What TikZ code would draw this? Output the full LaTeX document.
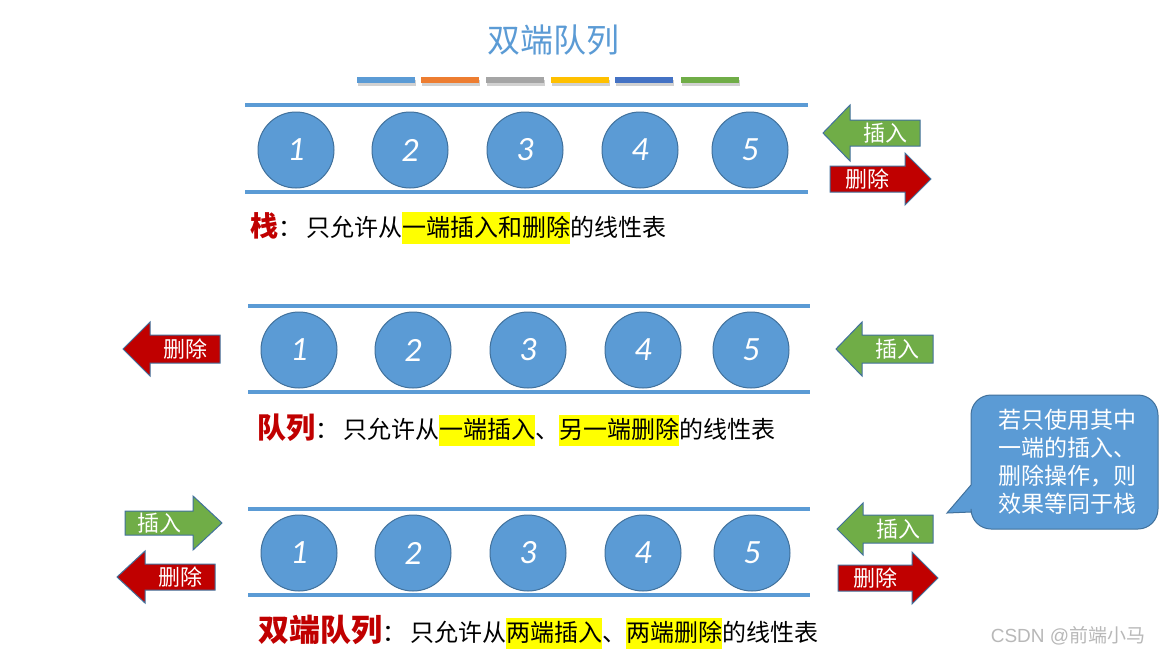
\documentclass[tikz,border=0pt]{standalone}
\usepackage{fontspec}
\setmainfont{Noto Sans CJK SC}
\newfontfamily\numfont{Carlito}
\newfontfamily\wmfont{Liberation Sans}
\definecolor{cblue}{HTML}{5B9BD5}
\definecolor{cborder}{HTML}{41719C}
\definecolor{agreen}{HTML}{70AD47}
\definecolor{ared}{HTML}{C00000}
\definecolor{bar1}{HTML}{5B9BD5}
\definecolor{bar2}{HTML}{ED7D31}
\definecolor{bar3}{HTML}{A5A5A5}
\definecolor{bar4}{HTML}{FFC000}
\definecolor{bar5}{HTML}{4472C4}
\definecolor{bar6}{HTML}{70AD47}
\definecolor{hlyellow}{HTML}{FFFF00}
\newcommand\hl[1]{{\setlength\fboxsep{0pt}\colorbox{hlyellow}{\rule[-0.3em]{0pt}{1.3em}#1}}}
\newcommand\colonsp{：\hspace{4pt}}
\newcommand\RArrow[9]{%
  \filldraw[fill=#8, draw=cborder, line width=1pt] (#2,#5-#6) -- (#3,#5-#6) -- (#3,#5-#7) -- (#4,#5) -- (#3,#5+#7) -- (#3,#5+#6) -- (#2,#5+#6) -- cycle;
  \node[albl] (#1) at ({(#2+#3)/2},#5) {#9};}
\newcommand\LArrow[9]{%
  \filldraw[fill=#8, draw=cborder, line width=1pt] (#2,#5) -- (#3,#5-#7) -- (#3,#5-#6) -- (#4,#5-#6) -- (#4,#5+#6) -- (#3,#5+#6) -- (#3,#5+#7) -- cycle;
  \node[albl] (#1) at ({(#3+#4)/2},#5) {#9};}
\begin{document}
\begin{tikzpicture}[x=1pt,y=-1pt,
  ball/.style={circle, minimum size=76pt, inner sep=0pt, fill=cblue, draw=cborder, line width=1pt,
     text=white, font=\numfont\itshape\fontsize{34}{34}\selectfont},
  rail/.style={draw=cblue, line width=4pt},
  albl/.style={text=white, inner sep=0pt, font=\fontsize{22}{22}\selectfont},
  txt/.style={anchor=west, inner sep=0pt, font=\fontsize{24}{28}\selectfont},
  cbar/.style={line width=6pt}
]
\useasboundingbox (0,0) rectangle (1160,657);
\fill[white] (0,0) rectangle (1160,657);

% title
\node[text=cblue, font=\fontsize{33}{33}\selectfont] (title) at (553,40) {双端队列};
% colour bars
\foreach \a/\b/\c in {357/415/bar1,421/479/bar2,486/544/bar3,551/609/bar4,615/673/bar5,681/739/bar6}{
  \draw[cbar, black!18] (\a+1,82.5) -- (\b+1,82.5);
  \draw[cbar, \c] (\a,80) -- (\b,80);
}

% row 1
\draw[rail] (245,105) -- (808,105);
\draw[rail] (245,192) -- (808,192);
\foreach \x [count=\i] in {296,410,525,640,750} \node[ball] (a\i) at (\x,150) {\i};
\LArrow{a-ins}{823}{850}{920}{133}{13}{28}{agreen}{插入}
\RArrow{a-del}{830}{905}{931}{179}{13}{26}{ared}{删除}
\node[txt] (t1) at (250,228) {\textcolor{ared}{\bfseries\fontsize{28}{28}\selectfont 栈}\colonsp 只允许从\hl{一端插入和删除}的线性表};

% row 2
\draw[rail] (248,306) -- (810,306);
\draw[rail] (248,392) -- (810,392);
\foreach \x [count=\i] in {299,413,528,643,751} \node[ball] (b\i) at (\x,350) {\i};
\LArrow{b-del}{123}{150}{220}{349}{14}{27}{ared}{删除}
\LArrow{b-ins}{836}{862}{933}{349}{14}{27}{agreen}{插入}
\node[txt] (t2) at (257,430) {\textcolor{ared}{\bfseries\fontsize{29}{29}\selectfont 队列}\colonsp 只允许从\hl{一端插入}、\hl{另一端删除}的线性表};

% row 3
\draw[rail] (248,509) -- (810,509);
\draw[rail] (248,595) -- (810,595);
\foreach \x [count=\i] in {299,413,528,643,752} \node[ball] (c\i) at (\x,553) {\i};
\RArrow{c-ins-l}{125}{193}{222}{523}{12}{27}{agreen}{插入}
\LArrow{c-del-l}{117}{145}{215}{577}{13}{26}{ared}{删除}
\LArrow{c-ins-r}{837}{863}{933}{529}{14}{26}{agreen}{插入}
\RArrow{c-del-r}{838}{912}{938}{578}{13}{26}{ared}{删除}
\node[txt] (t3) at (258,632) {\textcolor{ared}{\bfseries\fontsize{31}{31}\selectfont 双端队列}\colonsp 只允许从\hl{两端插入}、\hl{两端删除}的线性表};

% callout
\filldraw[fill=cblue, draw=cborder, line width=1pt, rounded corners=20pt]
  (971,485) -- (971,395) -- (1158,395) -- (1158,529) -- (971,529) [sharp corners] -- (971,512) -- (947,513) -- cycle;
\node[text=white, align=center, font=\fontsize{23}{28}\selectfont, inner sep=0pt] (note) at (1067,462)
  {若只使用其中\\一端的插入、\\删除操作，则\\效果等同于栈};

% watermark
\node[text=black!28, font=\fontsize{19}{19}\selectfont, inner sep=0pt] (wm) at (1068,636) {{\wmfont CSDN @}前端小马};
\end{tikzpicture}
\end{document}
